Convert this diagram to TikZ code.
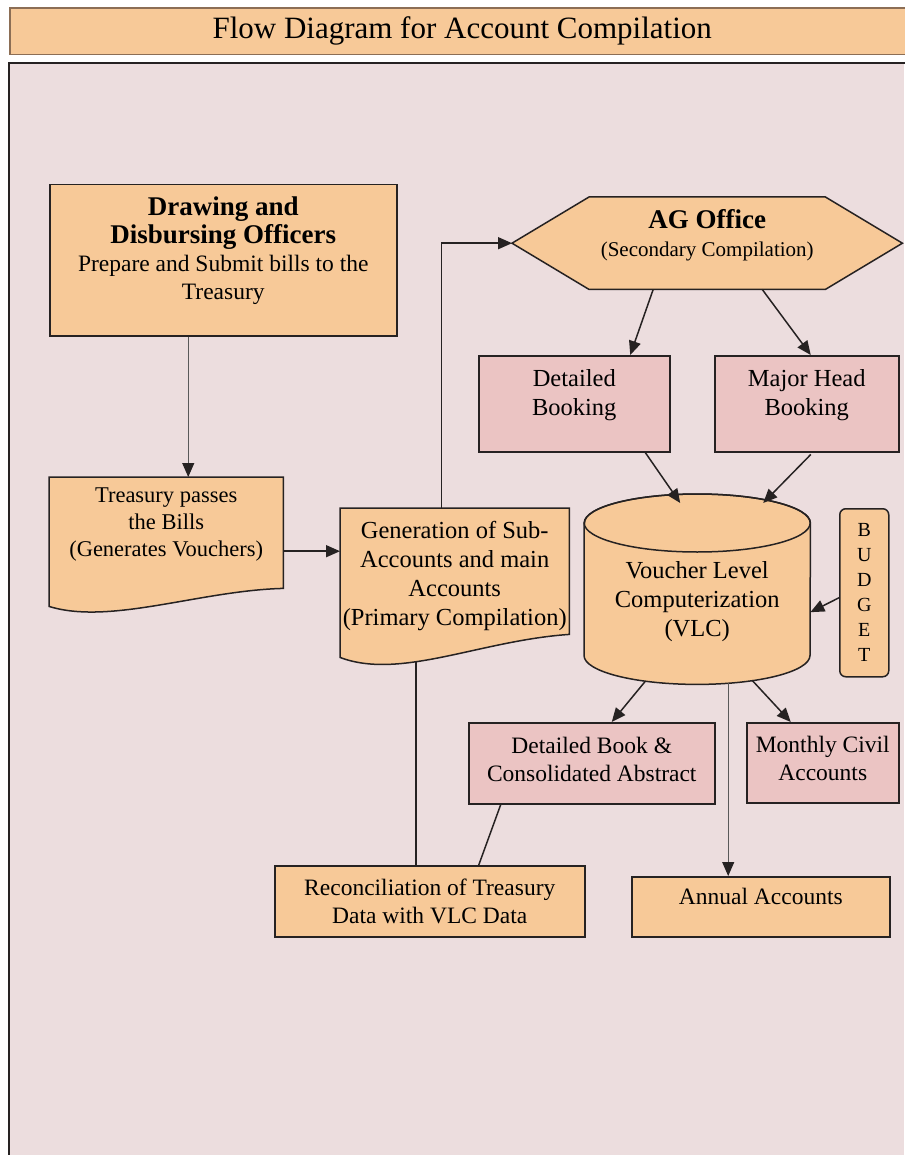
\documentclass[tikz,border=0pt]{standalone}
\usepackage{fontspec}
\setmainfont{Liberation Serif}
\usepackage{tikz}
\usetikzlibrary{arrows.meta,calc,backgrounds,positioning}

\definecolor{pagebg}{HTML}{ECDDDE}
\definecolor{boxorange}{HTML}{F7C998}
\definecolor{boxpink}{HTML}{EBC4C3}
\definecolor{titleedge}{HTML}{8C6E55}
\definecolor{inkline}{HTML}{262222}

\newcommand{\bodyfont}{\normalfont\fontsize{23.5}{28}\selectfont}
\newcommand{\bigbody}{\normalfont\fontsize{24.5}{29}\selectfont}
\newcommand{\headfont}{\fontsize{27}{30}\selectfont\bfseries}
\newcommand{\titlefont}{\normalfont\fontsize{31}{34}\selectfont}

\tikzset{
	orangebox/.style={draw=inkline, line width=1.5pt, fill=boxorange, align=center, inner sep=4pt},
	pinkbox/.style={draw=inkline, line width=1.5pt, fill=boxpink, align=center, inner sep=4pt},
	docbox/.style={align=center, inner sep=0pt},
	shapefill/.style={draw=inkline, line width=1.5pt, fill=boxorange},
	arr/.style={-{Triangle[length=14pt,width=12pt,color=inkline]}, line width=1.5pt, draw=inkline},
	thinarr/.style={arr, line width=1pt, draw=black!65},
	link/.style={line width=1.5pt, draw=inkline},
}

\begin{document}
\begin{tikzpicture}[x=1pt, y=-1pt, font=\bodyfont]
	\useasboundingbox (0,0) rectangle (904,1155);
	% Page
	\begin{scope}[on background layer]
		\fill[white] (0,0) rectangle (904,1155);
		\fill[pagebg] (9,63) rectangle (904,1155);
		\draw[line width=2.5pt, draw=inkline] (9,1160) -- (9,63) -- (910,63);
	\end{scope}
	
	% Title
	\node[fill=boxorange, minimum width=904pt, minimum height=46pt, anchor=north west, inner sep=0pt, font=\titlefont] (title) at (10,8) {Flow Diagram for Account Compilation};
	\draw[line width=1.2pt, draw=titleedge] (title.north east) -- (title.north west) -- (title.south west) -- (title.south east);
	
	% Left column
	\node[orangebox, minimum width=347pt, minimum height=151pt, anchor=north west] (ddo) at (49,184) {\headfont Drawing and\\ \headfont Disbursing Officers\\ \bodyfont Prepare and Submit bills to the\\ \bodyfont Treasury\rule[-24pt]{0pt}{0pt}};
	\node[docbox, minimum width=234pt, minimum height=94pt, anchor=north west, font=\normalfont\fontsize{22.5}{27}\selectfont] (treasury) at (49,477) {Treasury passes\\ the Bills\\ (Generates Vouchers)};
	\node[docbox, minimum width=229pt, minimum height=136pt, anchor=north west, font=\bigbody] (gensub) at (340,508) {Generation of Sub-\\ Accounts and main\\ Accounts\\ (Primary Compilation)};
	\node[orangebox, minimum width=310pt, minimum height=71pt, anchor=north west] (recon) at (274,865) {Reconciliation of Treasury\\ Data with VLC Data};
	
	% AG office
	\node[docbox, minimum width=236pt, minimum height=92pt, anchor=north west] (agoffice) at (589,197) {\headfont AG Office\\ \normalfont\fontsize{21}{25}\selectfont (Secondary Compilation)\rule[-20pt]{0pt}{0pt}};
	\node[pinkbox, minimum width=191pt, minimum height=96pt, anchor=north west, font=\bigbody] (detbook) at (478,355) {Detailed\\ Booking\rule[-22pt]{0pt}{0pt}};
	\node[pinkbox, minimum width=184pt, minimum height=96pt, anchor=north west, font=\bigbody] (mhbook) at (714,355) {Major Head\\ Booking\rule[-22pt]{0pt}{0pt}};
	
	% VLC
	\node[docbox, minimum width=226pt, minimum height=190pt, anchor=north west, font=\bigbody] (vlc) at (584,494) {\rule{0pt}{42pt}Voucher Level\\ Computerization\\ (VLC)};
	\node[orangebox, rounded corners=6pt, minimum width=49pt, minimum height=168pt, anchor=north west, inner sep=2pt, font=\normalfont\fontsize{20}{25}\selectfont] (budget) at (839,508) {B\\U\\D\\G\\E\\T};
	\node[pinkbox, minimum width=246pt, minimum height=81pt, anchor=north west] (detabs) at (468,722) {Detailed Book \&\\ Consolidated Abstract\rule[-8pt]{0pt}{0pt}};
	\node[pinkbox, minimum width=152pt, minimum height=80pt, anchor=north west] (monthly) at (746,722) {Monthly Civil\\ Accounts\rule[-8pt]{0pt}{0pt}};
	\node[orangebox, minimum width=258pt, minimum height=60pt, anchor=north west] (annual) at (631,876) {Annual Accounts\rule[-20pt]{0pt}{0pt}};
	
	% Shapes behind the texts
	\begin{scope}[on background layer]
		\draw[link] ($(gensub.south west)+(76,0)$) -- (recon.north -| {$(gensub.south west)+(76,0)$});
		\draw[shapefill] (treasury.north west) -- (treasury.north east) -- ($(treasury.south east)+(0,17)$)
			.. controls ($(treasury.south east)+(-83,19)$) and ($(treasury.south west)+(61,54)$) .. ($(treasury.south west)+(0,35)$) -- cycle;
		\draw[shapefill] (gensub.north west) -- (gensub.north east) -- ($(gensub.south east)+(0,-10)$)
			.. controls ($(gensub.south east)+(-89,-4)$) and ($(gensub.south west)+(60,36)$) .. ($(gensub.south west)+(0,13)$) -- cycle;
		\draw[shapefill] (agoffice.north west) -- (agoffice.north east) -- ($(agoffice.east)+(77,0)$) -- (agoffice.south east)
			-- (agoffice.south west) -- ($(agoffice.west)+(-77,0)$) -- cycle;
		\draw[shapefill] ($(vlc.north west)+(0,29)$) -- ($(vlc.south west)+(0,-29)$)
			arc[start angle=180, end angle=360, x radius=113pt, y radius=29pt]
			-- ($(vlc.north east)+(0,29)$) arc[start angle=0, end angle=180, x radius=113pt, y radius=29pt] -- cycle;
		\draw[link] ($(vlc.north)+(0,29)$) ellipse[x radius=113pt, y radius=29pt];
	\end{scope}
	
	% Points on the borders
	\coordinate (agtip) at ($(agoffice.west)+(-77,0)$);
	\coordinate (ddoout) at ($(ddo.south)+(-35,0)$);
	\coordinate (trout) at ($(treasury.east)+(0,27)$);
	\coordinate (genout) at ($(gensub.north)+(-13,0)$);
	\coordinate (abstout) at ($(detabs.south)+(-91,0)$);
	\coordinate (annout) at ($(vlc.south)+(31,-1)$);
	
	% Flow
	\draw[thinarr] (ddoout) -- (treasury.north -| ddoout);
	\draw[arr] (trout) -- (gensub.west |- trout);
	\draw[arr] (genout) |- (agtip);
	\draw[arr] ($(agoffice.south)+(-54,0)$) -- ($(detbook.north)+(56,0)$);
	\draw[arr] ($(agoffice.south)+(55,0)$) -- ($(mhbook.north)+(4,0)$);
	\draw[arr] ($(detbook.south)+(71,0)$) -- ($(vlc.north)+(-17,9)$);
	\draw[arr] ($(mhbook.south)+(4,2)$) -- ($(vlc.north)+(66,9)$);
	\draw[arr] ($(budget.west)+(0,5)$) -- ($(vlc.east)+(0,23)$);
	\draw[arr] ($(vlc.south)+(-52,-3)$) -- ($(detabs.north)+(20,0)$);
	\draw[arr] ($(vlc.south)+(55,-4)$) -- ($(monthly.north)+(-32,0)$);
	\draw[thinarr] (annout) -- (annual.north -| annout);
	\draw[link] (abstout) -- ($(recon.north)+(49,0)$);
\end{tikzpicture}
\end{document}
